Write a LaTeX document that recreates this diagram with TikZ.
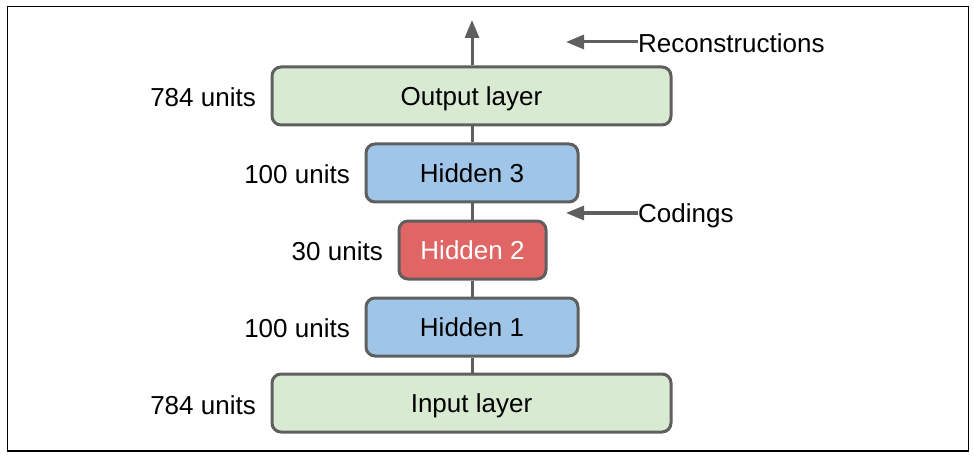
\documentclass[tikz,border=0pt]{standalone}
\usepackage{fontspec}
\setmainfont{Liberation Sans}
\usetikzlibrary{arrows.meta}
\definecolor{edge}{HTML}{5F5F5F}
\definecolor{greenfill}{HTML}{D9EAD3}
\definecolor{bluefill}{HTML}{9FC5E8}
\definecolor{redfill}{HTML}{E06666}
\begin{document}
\begin{tikzpicture}[x=1pt,y=-1pt,
  txt/.style={font=\fontsize{26}{28}\selectfont, text height=18.8pt, text depth=0pt},
  layer/.style={txt, draw=edge, line width=3pt, rounded corners=9pt, minimum height=58pt, inner sep=0pt},
  greenbox/.style={layer, fill=greenfill, minimum width=399pt},
  bluebox/.style={layer, fill=bluefill, minimum width=212pt},
  redbox/.style={layer, fill=redfill, minimum width=147pt, text=white},
  unitlabel/.style={txt, anchor=east, inner sep=0pt},
  sidelabel/.style={txt, anchor=west, inner sep=0pt},
  conn/.style={draw=edge, line width=3pt},
  arr/.style={draw=edge, line width=3pt, -{Triangle[length=18pt,width=14pt]}}
]
\useasboundingbox (0,0) rectangle (974,457);
\draw[line width=1.2pt] (7.5,6.5) rectangle (968.5,451);

\node[greenbox] (out) at (471.5,96) {Output layer};
\node[bluebox] (h3) at (472,173) {Hidden 3};
\node[redbox] (h2) at (472.5,250) {Hidden 2};
\node[bluebox] (h1) at (472,327) {Hidden 1};
\node[greenbox] (in) at (471.5,403) {Input layer};

\node[unitlabel] (l5) at (256,97) {784 units};
\node[unitlabel] (l4) at (350,174) {100 units};
\node[unitlabel] (l3) at (383,251) {30 units};
\node[unitlabel] (l2) at (350,328) {100 units};
\node[unitlabel] (l1) at (256,405) {784 units};

\coordinate (top) at (472,20);
\coordinate (rtip) at (566,42);
\coordinate (ctip) at (566,213);
\node[sidelabel] (rec) at (638,43.5) {Reconstructions};
\node[sidelabel] (cod) at (638,213) {Codings};

\draw[conn] (in.north -| 472,0) -- (h1.south -| 472,0);
\draw[conn] (h1.north -| 472,0) -- (h2.south -| 472,0);
\draw[conn] (h2.north -| 472,0) -- (h3.south -| 472,0);
\draw[conn] (h3.north -| 472,0) -- (out.south -| 472,0);
\draw[arr] (out.north -| 472,0) -- (top);
\draw[arr] (rec.west |- rtip) -- (rtip);
\draw[arr] (cod.west |- ctip) -- (ctip);
\end{tikzpicture}
\end{document}
